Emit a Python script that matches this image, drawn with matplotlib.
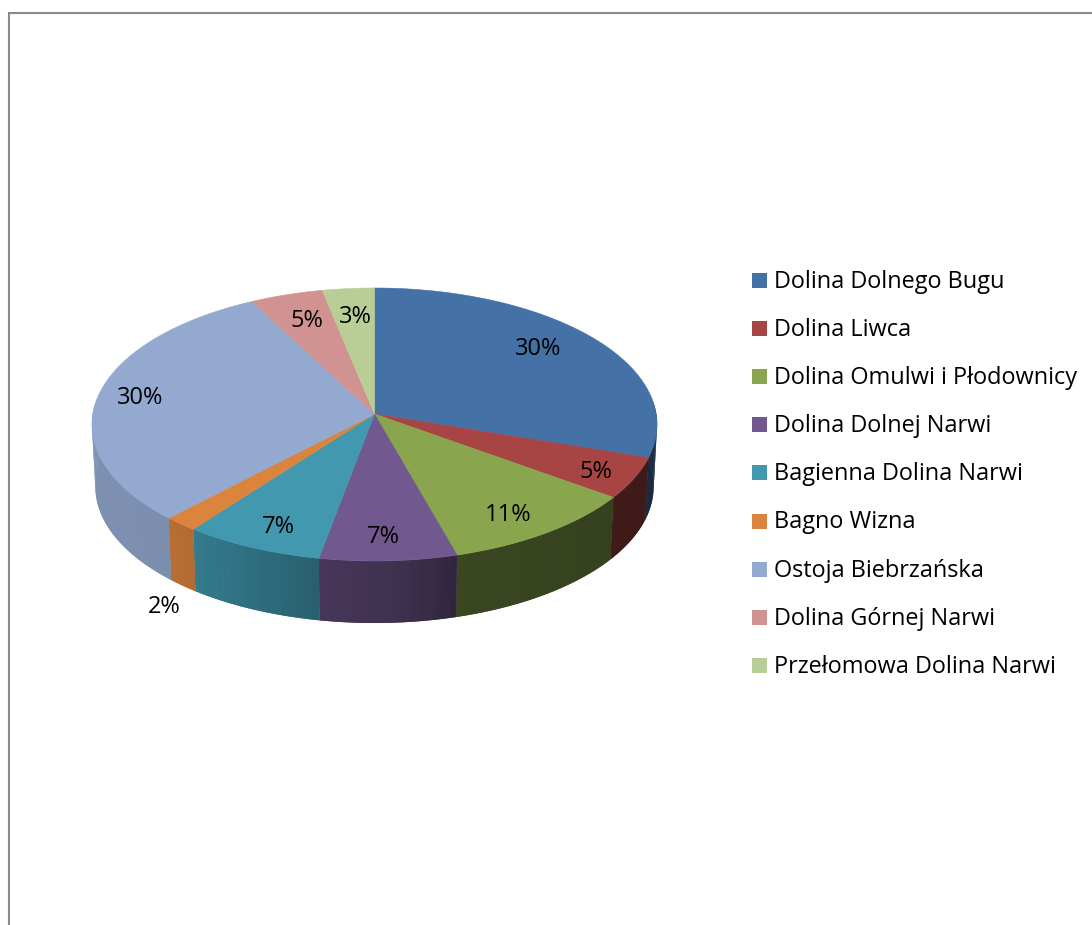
import matplotlib
matplotlib.use("Agg")
import matplotlib.pyplot as plt
from matplotlib.patches import Polygon, Rectangle
import numpy as np

names = ["Dolina Dolnego Bugu", "Dolina Liwca", "Dolina Omulwi i Płodownicy",
         "Dolina Dolnej Narwi", "Bagienna Dolina Narwi", "Bagno Wizna",
         "Ostoja Biebrzańska", "Dolina Górnej Narwi", "Przełomowa Dolina Narwi"]
values = [30.1, 4.9, 10.65, 7.3, 7.4, 1.8, 30.2, 4.5, 3.2]
pct_labels = ["30%", "5%", "11%", "7%", "7%", "2%", "30%", "5%", "3%"]
colors = ["#4471A6", "#A64543", "#89A54E", "#71588F", "#4198AF",
          "#DB843D", "#93A9CF", "#D19392", "#B9CD96"]

# where the labels sit, in pixels
label_xy = [(538, 349), (596, 472), (508, 515), (383, 537), (278, 527),
            (164, 607), (140, 398), (307, 321), (355, 317)]

W, H = 1092, 925
cx, cy = 374.5, 414
A, B, p = 281.7, 135.7, 0.0769  # ellipse + a bit of perspective
depth = 62
shrink = 0.988

# side gets darker from left to right
shade_x = [92, 170, 200, 318, 400, 456, 650]
shade_f = [0.86, 0.84, 0.80, 0.63, 0.55, 0.43, 0.38]


def rim(t):
    # t is the angle in degrees, clockwise from the top
    r = np.radians(t)
    u, v = np.sin(r), -np.cos(r)
    w = 1 - p * v
    return cx + A * u / w, cy + B * v / w


plt.rcParams["font.family"] = ["Open Sans", "DejaVu Sans"]

fig = plt.figure(figsize=(W / 100, H / 100), dpi=100)
ax = fig.add_axes([0, 0, 1, 1])
ax.set_xlim(0, W)
ax.set_ylim(H, 0)
ax.axis("off")

# frame
ax.plot([9, 9, W], [H, 13, 13], color="#8a8a8a", lw=1.5, solid_joinstyle="miter")

edges = np.concatenate([[0], np.cumsum(values)]) / np.sum(values) * 360

# side of the pie, only the part that faces us
for i, col in enumerate(colors):
    base = np.array(matplotlib.colors.to_rgb(col))
    a0, a1 = max(edges[i], 85), min(edges[i + 1], 275)
    if a1 <= a0:
        continue
    ts = np.linspace(a0, a1, 80)
    xs, ys = rim(ts)
    bxs = cx + (xs - cx) * shrink
    # solid piece first so the strips leave no seams
    under = base * np.interp(xs.mean(), shade_x, shade_f)
    pts = list(zip(xs, ys)) + list(zip(bxs[::-1], ys[::-1] + depth))
    ax.add_patch(Polygon(pts, closed=True, fc=under, ec="none", zorder=2))
    steps = np.append(np.arange(a0, a1, 1.5), a1)
    for t0, t1 in zip(steps[:-1], steps[1:]):
        x0, y0 = rim(t0)
        x1, y1 = rim(t1)
        bx0 = cx + (x0 - cx) * shrink
        bx1 = cx + (x1 - cx) * shrink
        c = base * np.interp((x0 + x1) / 2, shade_x, shade_f)
        ax.add_patch(Polygon([(x0, y0), (x1, y1), (bx1, y1 + depth), (bx0, y0 + depth)],
                             closed=True, fc=c, ec="none", zorder=2))

# top of the pie
for i, col in enumerate(colors):
    ts = np.linspace(edges[i], edges[i + 1], 120)
    xs, ys = rim(ts)
    pts = [(cx, cy)] + list(zip(xs, ys))
    ax.add_patch(Polygon(pts, closed=True, fc=col, ec=col, lw=0.4, zorder=3))

for (x, y), s in zip(label_xy, pct_labels):
    ax.text(x, y, s, ha="center", va="center", fontsize=17, color="black", zorder=4)

# legend
for i, (name, col) in enumerate(zip(names, colors)):
    y = 280 + i * 48.2
    ax.add_patch(Rectangle((752, y - 7.5), 15, 15, fc=col, ec="none"))
    ax.text(774, y + 1.5, name, ha="left", va="center", fontsize=16.9, color="black")

fig.savefig("out.png", dpi=100)
